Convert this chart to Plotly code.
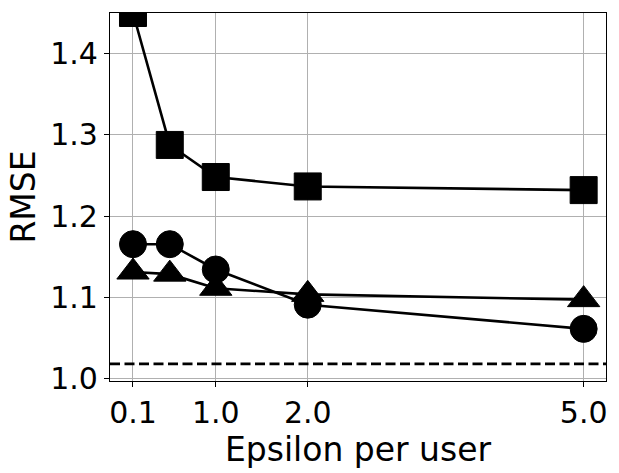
import plotly.graph_objects as go

# epsilon values per user
epsilon = [0.1, 0.5, 1.0, 2.0, 5.0]

# RMSE per method
rmse_square = [1.450, 1.2875, 1.248, 1.2364, 1.2319]
rmse_circle = [1.1653, 1.1653, 1.1341, 1.0908, 1.061]
rmse_triangle = [1.131, 1.1284, 1.111, 1.1035, 1.097]

baseline = 1.018

x_ticks = [0.1, 1.0, 2.0, 5.0]
x_tick_text = ["0.1", "1.0", "2.0", "5.0"]
y_ticks = [1.0, 1.1, 1.2, 1.3, 1.4]
y_tick_text = ["1.0", "1.1", "1.2", "1.3", "1.4"]

fig = go.Figure()

# dashed reference line
fig.add_trace(go.Scatter(
    x=[-0.15, 5.243], y=[baseline, baseline], mode="lines",
    line=dict(color="black", width=2.7, dash="10px,4.5px"),
    showlegend=False, hoverinfo="skip",
))

series = [
    (rmse_triangle, "triangle-up", 28),
    (rmse_circle, "circle", 27),
    (rmse_square, "square", 27),
]
for vals, sym, size in series:
    fig.add_trace(go.Scatter(
        x=epsilon, y=vals, mode="lines+markers",
        line=dict(color="black", width=2.6),
        marker=dict(symbol=sym, size=size, color="black",
                    line=dict(color="black", width=1)),
        showlegend=False,
    ))

font = "DejaVu Sans, sans-serif"
fig.update_layout(
    width=619, height=473,
    margin=dict(l=110, r=12, t=13, b=90),
    plot_bgcolor="white", paper_bgcolor="white",
    font=dict(family=font, color="black"),
)
fig.update_xaxes(
    range=[-0.15, 5.243], tickvals=x_ticks, ticktext=x_tick_text,
    tickfont=dict(size=30), ticks="outside", ticklen=5, tickwidth=1,
    tickcolor="black",
    showline=True, linecolor="black", linewidth=1.2, mirror=True,
    showgrid=True, gridcolor="#b0b0b0", gridwidth=1.1, zeroline=False,
    title=dict(text="Epsilon per user", font=dict(size=33), standoff=8),
)
fig.update_yaxes(
    range=[0.9968, 1.45], tickvals=y_ticks, ticktext=y_tick_text,
    tickfont=dict(size=30), ticks="outside", ticklen=5, tickwidth=1,
    tickcolor="black",
    showline=True, linecolor="black", linewidth=1.2, mirror=True,
    showgrid=True, gridcolor="#b0b0b0", gridwidth=1.1, zeroline=False,
    title=dict(text="RMSE", font=dict(size=33), standoff=4),
)

# drop the default page margin so the figure fills the window
fig.write_html("out.html", config={"displayModeBar": False},
               post_script="document.body.style.margin='0';")
